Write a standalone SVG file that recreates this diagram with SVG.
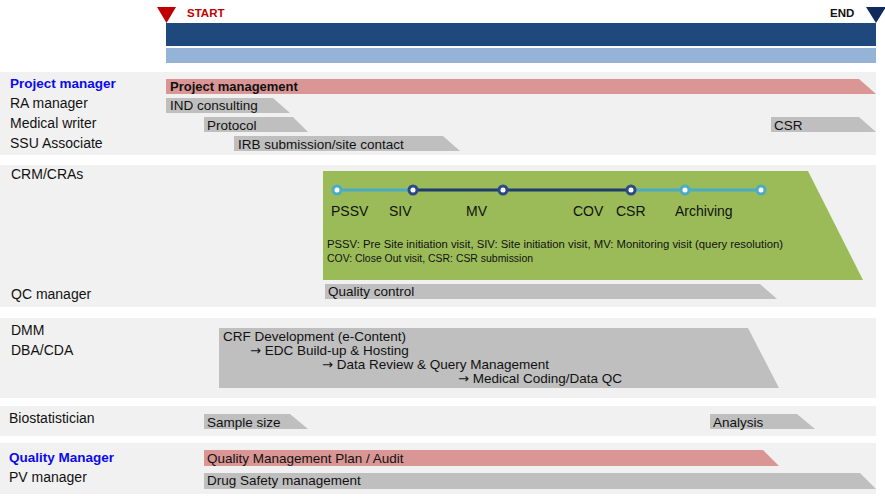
<svg xmlns="http://www.w3.org/2000/svg" width="885" height="499" viewBox="0 0 885 499">
<style>
text{font-family:"Liberation Sans",Arial,sans-serif;fill:#111;}
.lbl{font-size:14px;}
.blue{fill:#0a0aee;font-weight:bold;font-size:13.5px;}
.bar{font-size:13.5px;}
.tl{font-size:14px;}
.leg{font-size:10px;}
.arr{font-family:"DejaVu Sans",sans-serif;font-size:13px;}
.panel{fill:#f1f1f1;}
.gray{fill:#bfbfbf;}
.pink{fill:#d99694;}
.lt{fill:#fff;stroke:#4bacc6;stroke-width:3;}
.dk{fill:#fff;stroke:#2e4a86;stroke-width:3;}
</style>
<rect width="885" height="499" fill="#fff"/>
<!-- panels -->
<rect class="panel" x="0" y="72" width="876" height="83"/>
<rect class="panel" x="0" y="165" width="876" height="142"/>
<rect class="panel" x="0" y="318" width="876" height="80"/>
<rect class="panel" x="0" y="406" width="876" height="30"/>
<rect class="panel" x="0" y="443" width="876" height="51"/>

<g id="header">
<polygon points="157,7 176,7 166.5,23" fill="#c00000"/>
<text x="187" y="17" font-size="11.5" font-weight="bold" style="fill:#c00000">START</text>
<text x="830" y="17" font-size="11.5" font-weight="bold" style="fill:#111">END</text>
<polygon points="866,7 886,7 876,23" fill="#0f2a5c"/>
<rect x="166" y="23" width="710" height="23" fill="#1f497d"/>
<rect x="166" y="48" width="710" height="15" fill="#95b3d7"/>
</g>

<g id="labels">
<text class="blue" x="10" y="88">Project manager</text>
<text class="lbl" x="10" y="108">RA manager</text>
<text class="lbl" x="10" y="128">Medical writer</text>
<text class="lbl" x="10" y="148">SSU Associate</text>
<text class="lbl" x="11" y="179">CRM/CRAs</text>
<text class="lbl" x="11" y="299">QC manager</text>
<text class="lbl" x="11" y="335">DMM</text>
<text class="lbl" x="11" y="355">DBA/CDA</text>
<text class="lbl" x="9" y="423">Biostatistician</text>
<text class="blue" x="9" y="462">Quality Manager</text>
<text class="lbl" x="9" y="482">PV manager</text>
</g>

<g id="project-management">
<polygon class="pink" points="166,79 859,79 876,94 166,94"/>
<text x="170" y="91" font-size="13" font-weight="bold">Project management</text>
</g>
<g id="ind-consulting">
<polygon class="gray" points="166,98 273,98 290,113 166,113"/>
<text class="bar" x="170" y="110">IND consulting</text>
</g>
<g id="protocol">
<polygon class="gray" points="204,117 293,117 308,132 204,132"/>
<text class="bar" x="207" y="130">Protocol</text>
</g>
<g id="irb">
<polygon class="gray" points="234,136 443,136 460,151 234,151"/>
<text class="bar" x="238" y="149">IRB submission/site contact</text>
</g>
<g id="csr">
<polygon class="gray" points="771,117 859,117 876,132 771,132"/>
<text class="bar" x="774" y="130">CSR</text>
</g>

<g id="monitoring">
<polygon points="323,171 808,171 863,280 323,280" fill="#9bbb59"/>
<text class="tl" x="331" y="216">PSSV</text>
<text class="tl" x="389" y="216">SIV</text>
<text class="tl" x="466" y="216">MV</text>
<text class="tl" x="573" y="216">COV</text>
<text class="tl" x="616" y="216">CSR</text>
<text class="tl" x="675" y="216">Archiving</text>
<text class="leg" x="327" y="248" textLength="456" lengthAdjust="spacingAndGlyphs">PSSV: Pre Site initiation visit,  SIV: Site initiation visit,  MV: Monitoring visit (query resolution)</text>
<text class="leg" x="327" y="262" textLength="206" lengthAdjust="spacingAndGlyphs">COV: Close Out visit, CSR: CSR submission</text>
</g>

<g id="connectors">
<line x1="337" y1="190" x2="413" y2="190" stroke="#4bacc6" stroke-width="3"/>
<line x1="413" y1="190" x2="631" y2="190" stroke="#1f3c73" stroke-width="3"/>
<line x1="631" y1="190" x2="761" y2="190" stroke="#4bacc6" stroke-width="3"/>
</g>

<g id="timeline-nodes">
<circle class="lt" cx="337" cy="190" r="4"/>
<circle class="dk" cx="413" cy="190" r="4"/>
<circle class="dk" cx="503" cy="190" r="4"/>
<circle class="dk" cx="631" cy="190" r="4"/>
<circle class="lt" cx="685" cy="190" r="4"/>
<circle class="lt" cx="761" cy="190" r="4"/>
</g>

<g id="quality-control">
<polygon class="gray" points="325,284 760,284 777,299 325,299"/>
<text class="bar" x="328" y="296">Quality control</text>
</g>

<g id="data-management">
<polygon class="gray" points="219,328 748,328 779,388 219,388"/>
<text class="bar" x="223" y="341">CRF Development (e-Content)</text>
<text class="bar" x="250" y="355"><tspan class="arr">→</tspan> EDC Build-up &amp; Hosting</text>
<text class="bar" x="322" y="369"><tspan class="arr">→</tspan> Data Review &amp; Query Management</text>
<text class="bar" x="458" y="383"><tspan class="arr">→</tspan> Medical Coding/Data QC</text>
</g>

<g id="sample-size">
<polygon class="gray" points="204,414 290,414 308,429 204,429"/>
<text class="bar" x="207" y="427">Sample size</text>
</g>
<g id="analysis">
<polygon class="gray" points="710,414 797,414 815,429 710,429"/>
<text class="bar" x="713" y="427">Analysis</text>
</g>

<g id="qm-plan">
<polygon class="pink" points="204,450 763,450 779,466 204,466"/>
<text class="bar" x="207" y="463">Quality Management Plan / Audit</text>
</g>
<g id="drug-safety">
<polygon class="gray" points="204,473 860,473 876,489 204,489"/>
<text class="bar" x="207" y="485">Drug Safety management</text>
</g>
</svg>
